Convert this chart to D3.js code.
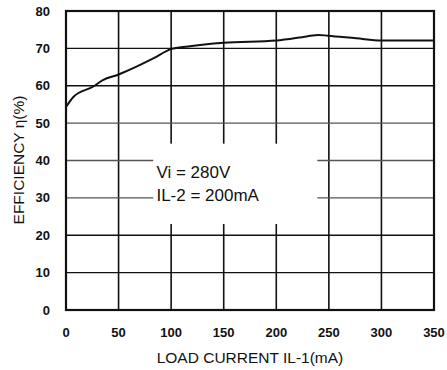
<!DOCTYPE html>
<html>
<head>
<meta charset="utf-8">
<script src="https://cdn.jsdelivr.net/npm/d3@7"></script>
<style>
  body { margin: 0; background: #fff; }
  text { font-family: "Liberation Sans", Arial, sans-serif; fill: #111; }
</style>
</head>
<body>
<div id="chart"></div>
<script>
// load current IL-1 (mA) vs efficiency (%)
var load_ma = [0, 7, 26, 35, 50, 67, 83, 100, 116, 150, 200, 229, 240, 249, 276, 300, 350];
var eff_pct = [54.3, 57, 59.8, 61.5, 63, 65.1, 67.3, 69.8, 70.5, 71.5, 72.1, 73.2, 73.6, 73.4, 72.7, 72.1, 72.1];

var x_ticks = [0, 50, 100, 150, 200, 250, 300, 350];
var y_ticks = [0, 10, 20, 30, 40, 50, 60, 70, 80];
var note_lines = ["Vi = 280V", "IL-2 = 200mA"];

var svg_width = 447;
var svg_height = 370;
var margin = { top: 11, bottom: 60, left: 66, right: 13 };
var width = svg_width - margin.left - margin.right;
var height = svg_height - margin.top - margin.bottom;

var svg = d3.select("#chart")
    .append("svg")
    .attr("width", svg_width)
    .attr("height", svg_height);

var chartGroup = svg.append("g")
    .attr("transform", `translate(${margin.left}, ${margin.top})`);

var x_scale = d3.scaleLinear().domain([0, 350]).range([0, width]);
var y_scale = d3.scaleLinear().domain([0, 80]).range([height, 0]);

// grid
chartGroup.selectAll(".vgrid")
    .data(x_ticks)
    .enter()
    .append("line")
    .attr("x1", d => x_scale(d))
    .attr("x2", d => x_scale(d))
    .attr("y1", 0)
    .attr("y2", height)
    .attr("stroke", "#111")
    .attr("stroke-width", 1.6);

chartGroup.selectAll(".hgrid")
    .data(y_ticks)
    .enter()
    .append("line")
    .attr("x1", 0)
    .attr("x2", width)
    .attr("y1", d => y_scale(d))
    .attr("y2", d => y_scale(d))
    .attr("stroke", d => (d == 50 || d == 30 || d == 40) ? "#555" : "#111")
    .attr("stroke-width", 1.4);

// white box for the note
chartGroup.append("rect")
    .attr("x", x_scale(83))
    .attr("y", y_scale(44.5))
    .attr("width", x_scale(239) - x_scale(83))
    .attr("height", y_scale(23) - y_scale(44.5))
    .attr("fill", "#fff");

// frame
chartGroup.append("rect")
    .attr("width", width)
    .attr("height", height)
    .attr("fill", "none")
    .attr("stroke", "#111")
    .attr("stroke-width", 2.2);

// curve
var line = d3.line()
    .x((d, i) => x_scale(load_ma[i]))
    .y(d => y_scale(d))
    .curve(d3.curveMonotoneX);

chartGroup.append("path")
    .datum(eff_pct)
    .attr("d", line)
    .attr("fill", "none")
    .attr("stroke", "#111")
    .attr("stroke-width", 2);

// note text
chartGroup.selectAll(".note")
    .data(note_lines)
    .enter()
    .append("text")
    .attr("x", x_scale(86))
    .attr("y", (d, i) => y_scale(35.2) + i * 23)
    .style("font-size", "17px")
    .text(d => d);

// tick labels
chartGroup.selectAll(".xlab")
    .data(x_ticks)
    .enter()
    .append("text")
    .attr("x", d => x_scale(d))
    .attr("y", height + 27)
    .attr("text-anchor", "middle")
    .style("font-size", "13px")
    .style("font-weight", "bold")
    .text(d => d);

chartGroup.selectAll(".ylab")
    .data(y_ticks)
    .enter()
    .append("text")
    .attr("x", -16)
    .attr("y", d => y_scale(d))
    .attr("dy", "0.35em")
    .attr("text-anchor", "end")
    .style("font-size", "13px")
    .style("font-weight", "bold")
    .text(d => d);

// axis titles
svg.append("text")
    .attr("x", 250)
    .attr("y", 363)
    .attr("text-anchor", "middle")
    .style("font-size", "15.5px")
    .text("LOAD CURRENT IL-1(mA)");

svg.append("text")
    .attr("transform", "translate(24, 160) rotate(-90)")
    .attr("text-anchor", "middle")
    .style("font-size", "15.5px")
    .text("EFFICIENCY η(%)");
</script>
</body>
</html>
